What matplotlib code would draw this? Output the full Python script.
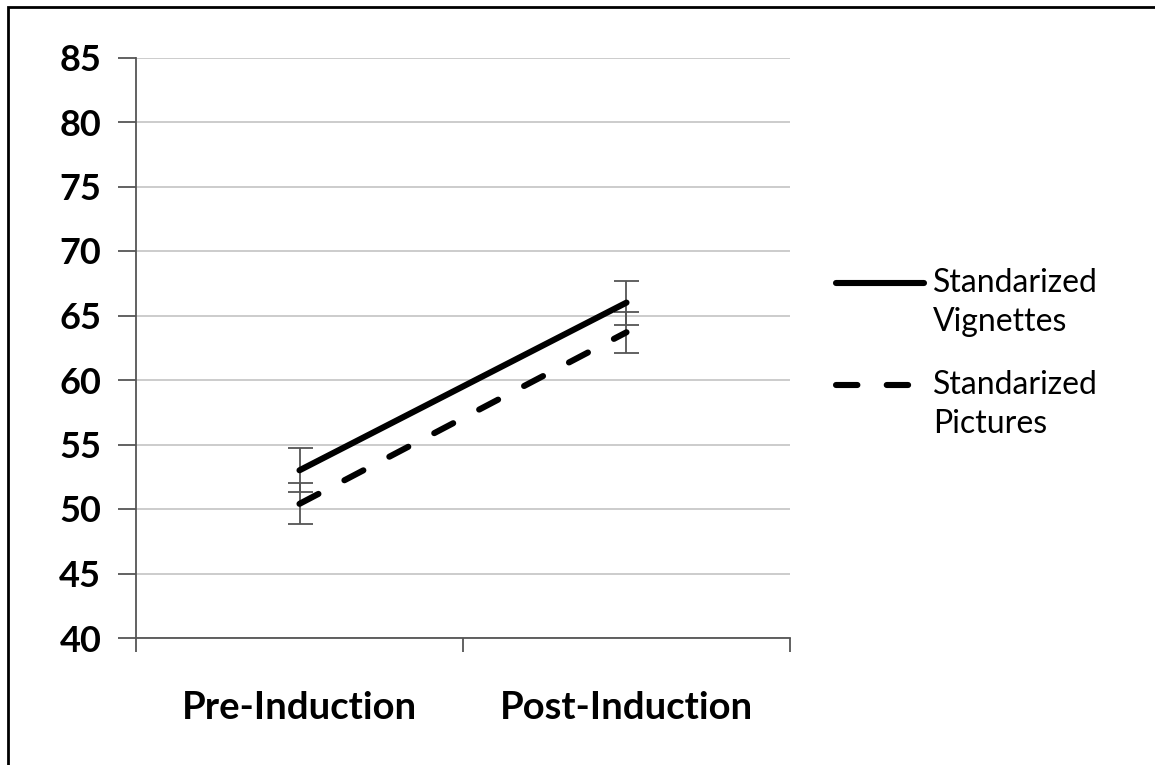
import matplotlib.pyplot as plt
from matplotlib.patches import Rectangle
from matplotlib.lines import Line2D

phases = ["Pre-Induction", "Post-Induction"]
vignettes = [53.0, 66.0]
vignettes_err = [1.7, 1.7]
pictures = [50.4, 63.7]
pictures_err = [1.6, 1.6]
yticks = [40, 45, 50, 55, 60, 65, 70, 75, 80, 85]
series_names = ["Standarized\nVignettes", "Standarized\nPictures"]

plt.rcParams['font.family'] = ['Lato', 'DejaVu Sans']

W, H = 1155, 765
fig = plt.figure(figsize=(W / 100, H / 100), dpi=100)
ax = fig.add_axes([136 / W, 1 - 638 / H, 654 / W, 580.5 / H])

dash = (0, (3.5, 4.8))
x = [0.5, 1.5]
ax.errorbar(x, vignettes, yerr=vignettes_err, color="black", lw=4.4,
            ecolor="#555555", elinewidth=1.3, capsize=9, capthick=1.3,
            solid_capstyle="round")
ax.errorbar(x, pictures, yerr=pictures_err, color="black", lw=4.4, ls=dash,
            ecolor="#555555", elinewidth=1.3, capsize=9, capthick=1.3,
            dash_capstyle="round")

ax.set_xlim(0, 2)
ax.set_ylim(40, 85)
ax.set_yticks(yticks)
ax.set_yticklabels([str(v) for v in yticks], fontsize=26, fontweight="bold")
ax.set_xticks([0, 1, 2])
ax.set_xticklabels([])
for xi, name in zip(x, phases):
    ax.text(xi, 34.6, name, ha="center", va="center", fontsize=27.5, fontweight="bold")

ax.grid(axis="y", color="#c8c8c8", lw=1.3)
ax.set_axisbelow(True)
for s in ["top", "right"]:
    ax.spines[s].set_visible(False)
ax.spines["left"].set_color("#555555")
ax.spines["bottom"].set_color("#555555")
ax.spines["left"].set_linewidth(1.3)
ax.spines["bottom"].set_linewidth(1.3)
ax.tick_params(axis="y", direction="out", length=13, width=1.3, color="#555555", pad=12)
ax.tick_params(axis="x", direction="out", length=10, width=1.3, color="#555555")

# legend drawn by hand so the handle sits on the first text line
styles = ["-", dash]
for i, (name, ls) in enumerate(zip(series_names, styles)):
    yl = 1 - (283 + 102 * i) / H
    fig.add_artist(Line2D([836 / W, 924 / W], [yl, yl], color="black", lw=4.4, ls=ls,
                          solid_capstyle="round", dash_capstyle="round"))
    fig.text(933 / W, yl + 15 / H, name, ha="left", va="top", fontsize=23,
             linespacing=1.38)

fig.patches.append(Rectangle((8 / W, -0.1), 1.2, 1.1 - 7 / H, transform=fig.transFigure,
                             fill=False, ec="black", lw=2))

fig.savefig("out.png", dpi=100)
